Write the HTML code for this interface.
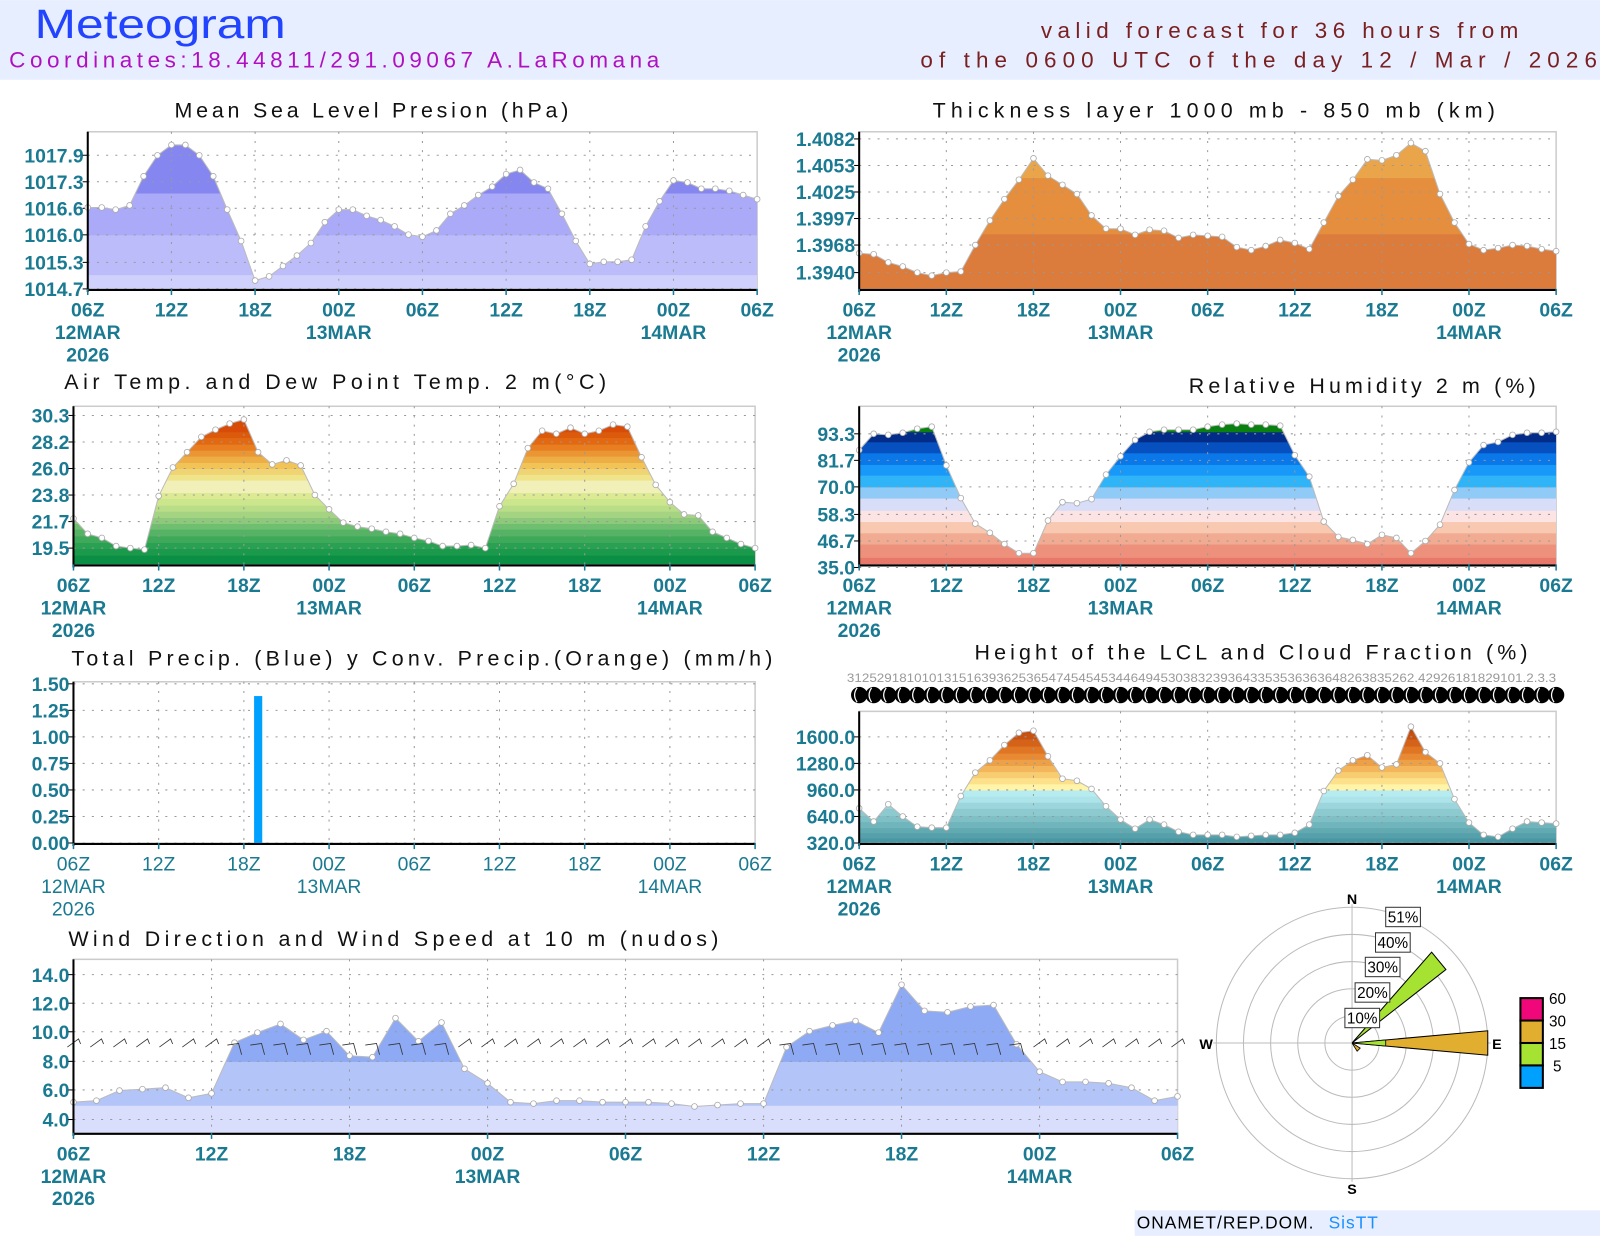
<!DOCTYPE html>
<html><head><meta charset="utf-8"><style>
html,body{margin:0;padding:0;background:#fff;}
svg{display:block;}
.t{font-family:"Liberation Sans",sans-serif;fill:#111;}
.lab{font-family:"Liberation Sans Narrow","Liberation Sans",sans-serif;font-weight:bold;fill:#1a7a92;font-size:19px;}
.labn{font-family:"Liberation Sans Narrow","Liberation Sans",sans-serif;fill:#1a7a92;font-size:19px;}
</style></head><body>
<svg id="s" width="1600" height="1236" viewBox="0 0 1568 1211" xmlns="http://www.w3.org/2000/svg"></svg>
<script>
var S=[];
function P(s){S.push(s);}
P('<rect x="0" y="0" width="1568" height="78" fill="#e6eeff"/>');
P('<text x="34" y="37" textLength="246" lengthAdjust="spacingAndGlyphs" style="font-family:Liberation Sans,sans-serif;font-size:40px;fill:#2244ff">Meteogram</text>');
P('<text x="9" y="66" textLength="637" lengthAdjust="spacing" style="font-family:Liberation Sans,sans-serif;font-size:22px;fill:#b010c0">Coordinates:18.44811/291.09067 A.LaRomana</text>');
P('<text x="1020" y="37" textLength="468" lengthAdjust="spacing" style="font-family:Liberation Sans,sans-serif;font-size:22px;fill:#7a2020">valid forecast for 36 hours from</text>');
P('<text x="902" y="66" textLength="663" lengthAdjust="spacing" style="font-family:Liberation Sans,sans-serif;font-size:22px;fill:#7a2020">of the 0600 UTC of the day 12 / Mar / 2026</text>');
function title(x,y,w,s){P('<text class="t" x="'+x+'" y="'+y+'" textLength="'+w+'" lengthAdjust="spacing" font-size="21">'+s+'</text>');}
var cid=0;
function panel(o){
  var x0=o.x0,x1=o.x1,y0=o.y0,y1=o.y1,n=49,dx=(x1-x0)/48;
  P('<rect x="'+x0+'" y="'+y0+'" width="'+(x1-x0)+'" height="'+(y1-y0)+'" fill="#fff" stroke="#ccc" stroke-width="1.5"/>');
  if(o.ys){
    cid++;
    var pts=o.ys.map(function(y,i){return (x0+i*dx).toFixed(1)+','+y;});
    var poly=x0+','+y1+' '+pts.join(' ')+' '+x1+','+y1;
    P('<clipPath id="c'+cid+'"><polygon points="'+poly+'"/></clipPath><g clip-path="url(#c'+cid+')">');
    var prev=y1;
    o.bands.forEach(function(b){P('<rect x="'+x0+'" y="'+b[0]+'" width="'+(x1-x0)+'" height="'+(prev-b[0]+0.5)+'" fill="'+b[1]+'"/>');prev=b[0];});
    P('<rect x="'+x0+'" y="'+y0+'" width="'+(x1-x0)+'" height="'+(prev-y0+0.5)+'" fill="'+o.top+'"/>');
    P('</g>');
  }
  var tx=o.tx;
  for(var i=1;i<tx.length-1;i++)P('<line x1="'+tx[i]+'" y1="'+y0+'" x2="'+tx[i]+'" y2="'+y1+'" stroke="#999" stroke-dasharray="2,7"/>');
  o.yl.forEach(function(l){P('<line x1="'+x0+'" y1="'+l[1]+'" x2="'+x1+'" y2="'+l[1]+'" stroke="#999" stroke-dasharray="2,7"/>');
    P('<text class="lab" x="'+(x0-4)+'" y="'+(l[1]+7)+'" text-anchor="end">'+l[0]+'</text>');
    P('<line x1="'+(x0-5)+'" y1="'+l[1]+'" x2="'+x0+'" y2="'+l[1]+'" stroke="#000"/>');});
  if(o.ys){
    var pts2=o.ys.map(function(y,i){return (x0+i*dx).toFixed(1)+','+y;}).join(' ');
    P('<polyline points="'+pts2+'" fill="none" stroke="#bbb" stroke-width="1"/>');
    o.ys.forEach(function(y,i){P('<circle cx="'+(x0+i*dx).toFixed(1)+'" cy="'+y+'" r="2.8" fill="#fff" stroke="#aaa" stroke-width="0.8"/>');});
  }
  if(o.extra)o.extra();
  P('<line x1="'+x0+'" y1="'+y0+'" x2="'+x0+'" y2="'+(y1+3)+'" stroke="#000" stroke-width="2"/>');
  P('<line x1="'+x0+'" y1="'+(y1+1)+'" x2="'+x1+'" y2="'+(y1+1)+'" stroke="#000" stroke-width="2"/>');
  var cls=o.thin?'labn':'lab';
  var hrs=['06Z','12Z','18Z','00Z','06Z','12Z','18Z','00Z','06Z'];
  tx.forEach(function(x,i){P('<line x1="'+x+'" y1="'+y1+'" x2="'+x+'" y2="'+(y1+6)+'" stroke="#1a7a92" stroke-width="1.5"/>');
    P('<text class="'+cls+'" x="'+x+'" y="'+(y1+27)+'" text-anchor="middle">'+hrs[i]+'</text>');});
  P('<text class="'+cls+'" x="'+tx[0]+'" y="'+(y1+49)+'" text-anchor="middle">12MAR</text>');
  P('<text class="'+cls+'" x="'+tx[0]+'" y="'+(y1+71)+'" text-anchor="middle">2026</text>');
  P('<text class="'+cls+'" x="'+tx[3]+'" y="'+(y1+49)+'" text-anchor="middle">13MAR</text>');
  P('<text class="'+cls+'" x="'+tx[7]+'" y="'+(y1+49)+'" text-anchor="middle">14MAR</text>');
}
function ticks(a,b){var r=[];for(var i=0;i<9;i++)r.push(+(a+(b-a)*i/8).toFixed(1));return r;}

var ms=[1016.65,1016.65,1016.6,1016.7,1017.4,1017.9,1018.15,1018.15,1017.9,1017.4,1016.6,1015.85,1014.9,1015.0,1015.25,1015.5,1015.8,1016.3,1016.6,1016.6,1016.45,1016.35,1016.2,1016.0,1015.95,1016.1,1016.5,1016.7,1016.95,1017.15,1017.45,1017.55,1017.25,1017.1,1016.5,1015.85,1015.3,1015.35,1015.35,1015.4,1016.2,1016.8,1017.3,1017.25,1017.1,1017.1,1017.05,1016.95,1016.85];
title(171,115,386,'Mean Sea Level Presion (hPa)');
panel({x0:86,x1:742,y0:129,y1:283,tx:ticks(86,742),ys:ms.map(function(v){return +(283-(v-1014.7)*40.9).toFixed(1);}),
 bands:[[269,'#d0d0fc'],[230,'#bcbcfa'],[189,'#aaaaf8']],top:'#8686f0',
 yl:[['1017.9',152],['1017.3',178],['1016.6',204],['1016.0',230],['1015.3',257],['1014.7',283]]});

var th=[248,249,257,261,267,270,267,266,240,216,195,176,155,172,181,190,211,224,224,230,225,226,233,230,231,232,242,245,241,235,238,244,218,192,176,156,157,152,140,148,190,218,239,245,243,240,241,244,246];
title(914,115,551,'Thickness layer 1000 mb - 850 mb (km)');
panel({x0:842,x1:1525,y0:129,y1:283,tx:ticks(842,1525),ys:th,bands:[[229,'#db7b3c'],[174,'#e48e3e']],top:'#eaa54a',
 yl:[['1.4082',136],['1.4053',162],['1.4025',188],['1.3997',214],['1.3968',240],['1.3940',267]]});

var tp=[508,523,527,535,537,538.5,486,458,443,428,421,415,411,443,455,451,456,485,499,512,516,518,521,523,527,530,535,535,534,537,496,474,439,422,425,419,425,422,416,418,448,475,492,504,505,521,527,533,537];
var tcol=['#0b8f45','#1a9a4a','#2aa152','#3fa95a','#56b366','#70be70','#8cc97a','#a4d482','#bade88','#cce68e','#dcea94','#f0f0b8','#f0e48a','#f0d474','#f2c458','#eeae46','#ea9634','#e87e20','#e26812','#dc5a0c','#d84c08'];
var tzy=[525,505,487,467,447,430,412,393,375,355,337,300,283,265,247,228,210,192,172,155,137];
var tb=[];for(var i=0;i<tzy.length;i++)tb.push([+((380+tzy[i]/3)*0.98).toFixed(1),tcol[i]]);
title(63,381,531,'Air Temp. and Dew Point Temp. 2 m(°C)');
panel({x0:72,x1:740,y0:398,y1:553,tx:ticks(72,740),ys:tp,bands:tb,top:'#d84c08',
 yl:[['30.3',407],['28.2',433],['26.0',459],['23.8',485],['21.7',511],['19.5',537]]});

var rh=[441,425,426,424,420,418,456,488,513,522,533,542,542,510,492,493,489,465,447,431,423,421,421,421,418,416,415,416,416,417,446,467,511,526,529,533,524,527,542,530,514,480,453,436,433,426,424,424,423];
title(1165,385,340,'Relative Humidity 2 m (%)');
panel({x0:842,x1:1525,y0:398,y1:553,tx:ticks(842,1525),ys:rh,
 bands:[[546,'#e8786a'],[533,'#ee917c'],[522,'#f0ab92'],[511,'#f8c8b0'],[500,'#fde4e4'],[488,'#d8def8'],[477,'#90cbf8'],[465.5,'#30b4f8'],[455,'#1898f8'],[443.6,'#0a78e8'],[432.8,'#0650c0'],[423,'#032c88']],top:'#0a8010',
 yl:[['93.3',425],['81.7',451],['70.0',477],['58.3',504],['46.7',530],['35.0',556]]});

title(70,652,687,'Total Precip. (Blue) y Conv. Precip.(Orange) (mm/h)');
panel({x0:72,x1:740,y0:668,y1:826,tx:ticks(72,740),thin:true,
 yl:[['1.50',670],['1.25',696],['1.00',722],['0.75',748],['0.50',774],['0.25',800],['0.00',826]],
 extra:function(){P('<rect x="249" y="682" width="8" height="144" fill="#00a0ff"/>');}});

var lc=[792,805,788,800,810,811,811,780,757,745,730,718,716,741,763,765,773,790,803,812,803,808,815,818,818,818,820,819,818,818,816,808,775,755,745,740,752,749,712,737,748,783,806,818,820,812,805,806,807];
var lb=[[821,'#4a96a2'],[816,'#55a0aa'],[811,'#62aab2'],[805,'#70b4bc'],[799,'#7ec0c6'],[792,'#8ccad0'],[786,'#9cd6dc'],[780,'#ace4ea'],[774,'#b6ecf0'],[768,'#fff4a8'],[762,'#fde08a'],[756,'#f8cc70'],[750,'#f4b65a'],[744,'#eea046'],[738,'#e88a34'],[731,'#e07624'],[724,'#d46218'],[718,'#c85212']];
title(955,646,542,'Height of the LCL and Cloud Fraction (%)');
P('<text x="830" y="668" textLength="695" lengthAdjust="spacingAndGlyphs" style="font-family:Liberation Sans,sans-serif;font-size:12px;fill:#999">3125291810101315163936253654745454534464945303832393643353536363648263835262.42926181829101.2.3.3</text>');
for(var i=0;i<49;i++){var cx=842+i*(683/48);P('<circle cx="'+cx.toFixed(1)+'" cy="681" r="8" fill="#000"/>');P('<path d="M'+(cx-2).toFixed(1)+',674 q-5,7 0,14" stroke="#fff" stroke-width="1.2" fill="none"/>');}
panel({x0:842,x1:1525,y0:697,y1:826,tx:ticks(842,1525),ys:lc,bands:lb,top:'#c04a10',
 yl:[['1600.0',722],['1280.0',748],['960.0',774],['640.0',800],['320.0',826]]});

var wv=[5.2,5.3,6.0,6.1,6.2,5.5,5.8,9.3,10.0,10.6,9.5,10.1,8.4,8.3,11.0,9.4,10.7,7.5,6.5,5.2,5.1,5.3,5.3,5.2,5.2,5.2,5.1,4.9,5.0,5.1,5.1,9.0,10.1,10.5,10.8,10.0,13.3,11.5,11.4,11.8,11.9,9.2,7.3,6.6,6.6,6.5,6.2,5.3,5.6];
title(67,927,637,'Wind Direction and Wind Speed at 10 m (nudos)');
panel({x0:72,x1:1154,y0:940,y1:1110,tx:ticks(72,1154),ys:wv.map(function(v){return +(1097-(v-4)*14.2).toFixed(1);}),
 bands:[[1083,'#d8defc'],[1040,'#b3c4f8']],top:'#8eaaf4',
 yl:[['14.0',955],['12.0',983],['10.0',1011],['8.0',1040],['6.0',1068],['4.0',1097]],
 extra:function(){var dx=1082/48;for(var i=0;i<49;i++){var x=72+i*dx;var hi=wv[i]>8;
   if(hi){P('<path d="M'+(x-7).toFixed(1)+',1024 l11,-1.5 l3,11" stroke="#333" stroke-width="0.8" fill="none"/>');}
   else{P('<path d="M'+(x-6).toFixed(1)+',1026 l11,-8 l2,5" stroke="#333" stroke-width="0.8" fill="none"/>');}}}});

var cx=1325,cy=1022;
var g='';
for(var r=1;r<=5;r++)g+='<circle cx="'+cx+'" cy="'+cy+'" r="'+(r*26.6)+'" fill="none" stroke="#bbb" stroke-width="1"/>';
g+='<line x1="'+cx+'" y1="'+(cy-136)+'" x2="'+cx+'" y2="'+(cy+136)+'" stroke="#bbb"/><line x1="'+(cx-136)+'" y1="'+cy+'" x2="'+(cx+136)+'" y2="'+cy+'" stroke="#bbb"/>';
g+='<polygon points="'+cx+','+cy+' 1458,'+(cy-12)+' 1458,'+(cy+12)+'" fill="#e2ae30" stroke="#000" stroke-width="1"/>';
g+='<polygon points="'+cx+','+cy+' 1358,'+(cy-3)+' 1358,'+(cy+3)+'" fill="#a6e232" stroke="#000" stroke-width="0.8"/>';
g+='<polygon points="'+cx+','+cy+' 1403,933 1417,950" fill="#a6e232" stroke="#000" stroke-width="1"/>';
g+='<polygon points="'+cx+','+cy+' 1330,1030 1333,1027" fill="#e2ae30" stroke="#000" stroke-width="0.8"/>';
[['51%',1358,889],['40%',1348,914],['30%',1338,938],['20%',1328,963],['10%',1318,988]].forEach(function(b){
 g+='<rect x="'+b[1]+'" y="'+b[2]+'" width="34" height="19" fill="#fff" stroke="#333"/><text x="'+(b[1]+17)+'" y="'+(b[2]+15)+'" text-anchor="middle" style="font-family:Liberation Sans,sans-serif;font-size:15px;fill:#000">'+b[0]+'</text>';});
g+='<text x="1325" y="886" text-anchor="middle" style="font-family:Liberation Sans,sans-serif;font-weight:bold;font-size:14px">N</text>';
g+='<text x="1325" y="1170" text-anchor="middle" style="font-family:Liberation Sans,sans-serif;font-weight:bold;font-size:14px">S</text>';
g+='<text x="1182" y="1028" text-anchor="middle" style="font-family:Liberation Sans,sans-serif;font-weight:bold;font-size:14px">W</text>';
g+='<text x="1467" y="1028" text-anchor="middle" style="font-family:Liberation Sans,sans-serif;font-weight:bold;font-size:14px">E</text>';
[['#f0087a',978,'60'],['#e2ae30',1000,'30'],['#a6e232',1022,'15'],['#00a0ff',1044,'5']].forEach(function(b,i){
 g+='<rect x="1490" y="'+b[1]+'" width="22" height="22" fill="'+b[0]+'" stroke="#000" stroke-width="2"/>';
 g+='<text x="'+(i==3?1522:1518)+'" y="'+(b[1]+6)+'" style="font-family:Liberation Sans,sans-serif;font-size:15px">'+b[2]+'</text>';});
P(g);
P('<rect x="1112" y="1186" width="456" height="25" fill="#e6eeff"/>');
P('<text x="1114" y="1204" style="font-family:Liberation Sans,sans-serif;font-size:17px;fill:#000;letter-spacing:1px">ONAMET/REP.DOM.</text>');
P('<text x="1302" y="1204" style="font-family:Liberation Sans,sans-serif;font-size:17px;fill:#1a90ff;letter-spacing:1px">SisTT</text>');
document.getElementById('s').innerHTML=S.join('');
</script>
</body></html>
